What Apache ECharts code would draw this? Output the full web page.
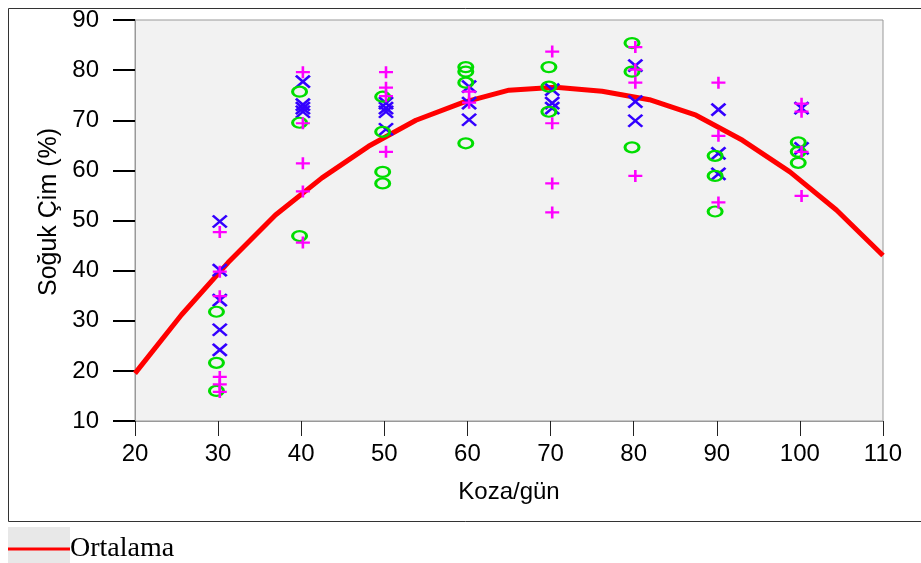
<!DOCTYPE html>
<html>
<head>
<meta charset="utf-8">
<script src="https://cdn.jsdelivr.net/npm/echarts@6/dist/echarts.min.js"></script>
<style>
html,body{margin:0;padding:0;background:#fff;}
#chart{width:921px;height:563px;}
</style>
</head>
<body>
<div id="chart"></div>
<script>
// ---- data ----
const xTicks = [20, 30, 40, 50, 60, 70, 80, 90, 100, 110];
const yTicks = [10, 20, 30, 40, 50, 60, 70, 80, 90];
const meanX = [20, 25.6, 31.2, 36.9, 42.5, 48.1, 53.8, 59.4, 65, 70.6, 76.2, 81.9, 87.5, 93.1, 98.8, 104.4, 110];
const meanY = [19.5, 31.2, 41.6, 51.1, 58.5, 64.8, 70, 73.5, 76, 76.6, 75.8, 74.1, 71, 66, 59.7, 52.1, 43];
const circlePts = [
  [29.8, 31.8], [29.8, 21.6], [29.8, 16.0],
  [39.8, 75.7], [39.8, 69.5], [39.8, 46.9],
  [49.8, 74.7], [49.8, 67.7], [49.8, 59.7], [49.8, 57.4],
  [59.8, 80.6], [59.8, 79.7], [59.8, 77.5], [59.8, 65.4],
  [69.8, 80.6], [69.8, 76.7], [69.8, 71.7],
  [79.8, 85.4], [79.8, 79.7], [79.8, 64.6],
  [89.8, 62.9], [89.8, 58.9], [89.8, 51.8],
  [99.8, 65.6], [99.8, 63.7], [99.8, 61.5]
];
const crossPts = [
  [30.2, 49.8], [30.2, 40.1], [30.2, 34.1], [30.2, 28.2], [30.2, 24.2],
  [40.2, 77.7], [40.2, 73.1], [40.2, 72.4], [40.2, 71.7],
  [50.2, 73.4], [50.2, 72.4], [50.2, 71.7], [50.2, 68.2],
  [60.2, 76.7], [60.2, 73.4], [60.2, 70.1],
  [70.2, 76.1], [70.2, 73.4], [70.2, 72.4],
  [80.2, 80.9], [80.2, 73.7], [80.2, 69.9],
  [90.2, 72.1], [90.2, 63.4], [90.2, 59.3],
  [100.2, 72.4], [100.2, 64.4]
];
const plusPts = [
  [30.2, 47.7], [30.2, 39.8], [30.2, 34.9], [30.2, 18.8], [30.2, 17.3], [30.2, 15.8],
  [40.2, 79.6], [40.2, 69.4], [40.2, 61.4], [40.2, 55.8], [40.2, 45.6],
  [50.2, 79.6], [50.2, 76.5], [50.2, 74.8], [50.2, 63.7],
  [60.2, 75.7], [60.2, 73.5],
  [70.2, 83.7], [70.2, 69.4], [70.2, 57.4], [70.2, 51.6],
  [80.2, 84.6], [80.2, 80.1], [80.2, 77.5], [80.2, 58.9],
  [90.2, 77.5], [90.2, 66.9], [90.2, 53.6],
  [100.2, 73.3], [100.2, 71.7], [100.2, 63.7], [100.2, 54.9]
];
const meanName = 'Ortalama';
const xName = 'Koza/gün';
const yName = 'Soğuk Çim (%)';

// ---- chart ----
const chart = echarts.init(document.getElementById('chart'), null, {renderer: 'canvas'});
const sans = '"Liberation Sans", Arial, sans-serif';
const meanData = meanX.map((x, i) => [x, meanY[i]]);

chart.setOption({
  animation: false,
  backgroundColor: '#ffffff',
  graphic: [
    {type: 'rect', z: -10, shape: {x: 8.5, y: 8.5, width: 920, height: 513},
     style: {fill: '#ffffff', stroke: '#333', lineWidth: 1}},
    {type: 'rect', z: -5, shape: {x: 8, y: 527, width: 62, height: 36},
     style: {fill: '#e8e8e8'}}
  ],
  legend: {
    data: [meanName],
    left: 8, top: 533,
    padding: 0,
    itemWidth: 62, itemHeight: 3,
    itemGap: 0,
    icon: 'rect',
    itemStyle: {color: '#ff0000'},
    textStyle: {fontFamily: '"Liberation Serif", "Times New Roman", serif', fontSize: 28,
      lineHeight: 32, color: '#000', padding: [0, 0, 0, -5]}
  },
  grid: {
    left: 135, top: 20, right: 38, bottom: 142,
    show: true, backgroundColor: '#f2f2f2', borderColor: '#999', borderWidth: 1
  },
  xAxis: {
    type: 'value', min: 20, max: 110, interval: 10,
    name: xName, nameLocation: 'middle', nameGap: 59,
    nameTextStyle: {fontFamily: sans, fontSize: 24, color: '#000'},
    axisLine: {show: true, lineStyle: {color: '#999', width: 1}},
    axisTick: {show: true, inside: false, length: 15, lineStyle: {color: '#222', width: 1}},
    axisLabel: {margin: 21, fontFamily: sans, fontSize: 24, color: '#000',
      formatter: v => xTicks.includes(v) ? String(v) : ''},
    splitLine: {show: false}
  },
  yAxis: {
    type: 'value', min: 10, max: 90, interval: 10,
    name: yName, nameLocation: 'middle', nameGap: 72, nameRotate: 90,
    nameTextStyle: {fontFamily: sans, fontSize: 25, color: '#000', padding: [0, 0, 0, 17]},
    axisLine: {show: true, lineStyle: {color: '#999', width: 1}},
    axisTick: {show: true, inside: false, length: 22, lineStyle: {color: '#000', width: 2}},
    axisLabel: {margin: 36, fontFamily: sans, fontSize: 24, color: '#000',
      formatter: v => yTicks.includes(v) ? String(v) : ''},
    splitLine: {show: false}
  },
  series: [
    {
      name: meanName, type: 'line', data: meanData, symbol: 'none', z: 2,
      lineStyle: {color: '#ff0000', width: 5}, itemStyle: {color: '#ff0000'}
    },
    {
      name: 'x', type: 'scatter', data: crossPts, z: 3,
      symbol: 'path://M0,0L14,11M14,0L0,11', symbolSize: [14, 12],
      itemStyle: {color: 'none', borderColor: '#3300ff', borderWidth: 2.6, opacity: 1}
    },
    {
      name: 'o', type: 'scatter', data: circlePts, z: 4,
      symbol: 'circle', symbolSize: [14, 10],
      itemStyle: {color: 'rgba(0,0,0,0)', borderColor: '#00dd00', borderWidth: 2.6, opacity: 1}
    },
    {
      name: '+', type: 'scatter', data: plusPts, z: 5,
      symbol: 'path://M0,6L14,6M7,0L7,12', symbolSize: [14, 12],
      itemStyle: {color: 'none', borderColor: '#ff00ff', borderWidth: 2.4, opacity: 1}
    }
  ]
});
</script>
</body>
</html>
